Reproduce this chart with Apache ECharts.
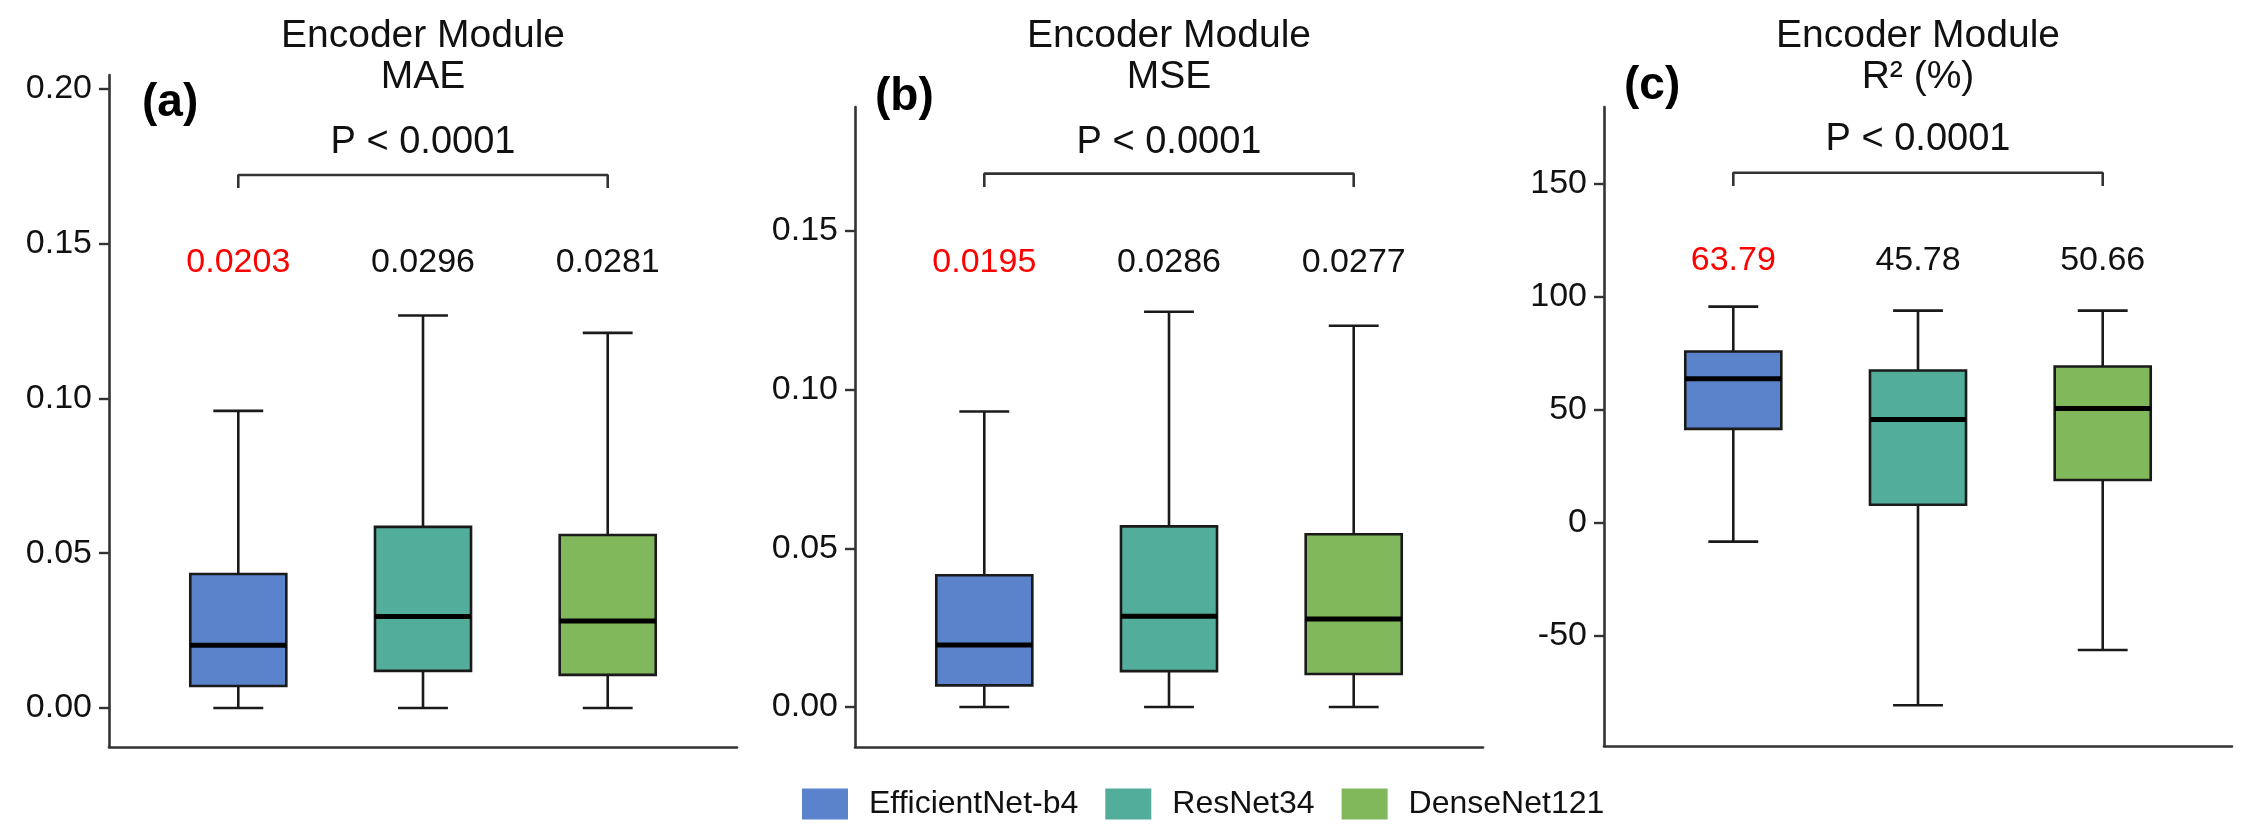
<!DOCTYPE html>
<html>
<head>
<meta charset="utf-8">
<script src="https://cdn.jsdelivr.net/npm/echarts@6/dist/echarts.min.js"></script>
<style>
html,body{margin:0;padding:0;background:#fff;}
#chart{width:2256px;height:839px;}
</style>
</head>
<body>
<div id="chart"></div>
<script>
// ---------------- data ----------------
const categories = ['EfficientNet-b4', 'ResNet34', 'DenseNet121'];
// each row: [min, Q1, median, Q3, max]
const maeStats = [
  [0, 0.0071, 0.0203, 0.0433, 0.0960],
  [0, 0.0120, 0.0296, 0.0585, 0.1268],
  [0, 0.0107, 0.0281, 0.0559, 0.1212]
];
const mseStats = [
  [0, 0.0068, 0.0195, 0.0415, 0.0931],
  [0, 0.0113, 0.0286, 0.0569, 0.1245],
  [0, 0.0104, 0.0277, 0.0544, 0.1201]
];
const r2Stats = [
  [-8.3, 41.6, 63.79, 75.8, 95.7],
  [-80.7, 8.0, 45.78, 67.4, 93.9],
  [-56.2, 19.0, 50.66, 69.2, 93.9]
];
const maeLabels = ['0.0203', '0.0296', '0.0281'];
const mseLabels = ['0.0195', '0.0286', '0.0277'];
const r2Labels = ['63.79', '45.78', '50.66'];
const maeTicks = [0, 0.05, 0.10, 0.15, 0.20];
const mseTicks = [0, 0.05, 0.10, 0.15];
const r2Ticks = [-50, 0, 50, 100, 150];
const pValueText = 'P < 0.0001';
const panelTitles = ['Encoder Module\nMAE', 'Encoder Module\nMSE', 'Encoder Module\nR\u00B2 (%)'];
const panelTags = ['(a)', '(b)', '(c)'];

// ---------------- styles / layout ----------------
const colors = ['#5A83CB', '#53AD9B', '#81B85C'];
const FONT = '"Liberation Sans", Arial, Helvetica, sans-serif';
const TEXT = '#111111';
const AXIS = '#333333';
const BOX_W = 0.52, CAP_W = 0.27;

const panels = [
  { stats: mseStats === null ? null : maeStats, labels: maeLabels, ticks: maeTicks, dec: 2,
    yMin: -0.0126, yMax: 0.2045, grid: {left: 109, top: 75, width: 628, height: 672},
    labelY: 0.1438, bracketY: 0.1722, dropY: 0.1680, pY: 0.1828, tag: [142, 103] },
  { stats: mseStats, labels: mseLabels, ticks: mseTicks, dec: 2,
    yMin: -0.0126, yMax: 0.1890, grid: {left: 855, top: 107, width: 628, height: 640},
    labelY: 0.1400, bracketY: 0.1680, dropY: 0.1638, pY: 0.1778, tag: [875, 97] },
  { stats: r2Stats, labels: r2Labels, ticks: r2Ticks, dec: 0,
    yMin: -98.7, yMax: 184, grid: {left: 1604, top: 107, width: 628, height: 639},
    labelY: 116, bracketY: 154.9, dropY: 149.1, pY: 169.5, tag: [1624, 86] }
];

function renderBox(params, api) {
  const x = api.value(0);
  const lo = api.coord([x, api.value(1)]);
  const q1 = api.coord([x, api.value(2)]);
  const md = api.coord([x, api.value(3)]);
  const q3 = api.coord([x, api.value(4)]);
  const hi = api.coord([x, api.value(5)]);
  const bw = api.size([BOX_W, 0])[0];
  const cw = api.size([CAP_W, 0])[0];
  const cx = lo[0];
  const lineStyle = {stroke: '#1a1a1a', lineWidth: 2.6};
  return {
    type: 'group',
    children: [
      {type: 'line', shape: {x1: cx, y1: q3[1], x2: cx, y2: hi[1]}, style: lineStyle},
      {type: 'line', shape: {x1: cx, y1: q1[1], x2: cx, y2: lo[1]}, style: lineStyle},
      {type: 'line', shape: {x1: cx - cw / 2, y1: hi[1], x2: cx + cw / 2, y2: hi[1]}, style: lineStyle},
      {type: 'line', shape: {x1: cx - cw / 2, y1: lo[1], x2: cx + cw / 2, y2: lo[1]}, style: lineStyle},
      {type: 'rect', shape: {x: cx - bw / 2, y: q3[1], width: bw, height: q1[1] - q3[1]},
        style: {fill: api.visual('color'), stroke: '#1a1a1a', lineWidth: 2.6}},
      {type: 'line', shape: {x1: cx - bw / 2, y1: md[1], x2: cx + bw / 2, y2: md[1]},
        style: {stroke: '#000', lineWidth: 5}}
    ]
  };
}

const grids = [], xAxes = [], yAxes = [], series = [], graphics = [];

panels.forEach((p, pi) => {
  grids.push(Object.assign({containLabel: false}, p.grid));
  xAxes.push({
    type: 'value', gridIndex: pi, min: 0.3, max: 3.7,
    axisLine: {show: true, onZero: false, lineStyle: {color: AXIS, width: 2.6}},
    axisTick: {show: false}, axisLabel: {show: false}, splitLine: {show: false}
  });
  yAxes.push({
    type: 'value', gridIndex: pi, min: p.yMin, max: p.yMax,
    axisLine: {show: true, onZero: false, lineStyle: {color: AXIS, width: 2.6}},
    axisTick: {show: true, length: 10, customValues: p.ticks, lineStyle: {color: AXIS, width: 2.4}},
    axisLabel: {show: true, customValues: p.ticks, margin: 17, fontSize: 34, fontFamily: FONT, color: TEXT,
      formatter: v => Number(v).toFixed(p.dec)},
    splitLine: {show: false}
  });
  // boxes: one series per model so the legend links the three panels
  categories.forEach((name, ci) => {
    series.push({
      type: 'custom', name: name, xAxisIndex: pi, yAxisIndex: pi,
      itemStyle: {color: colors[ci]},
      renderItem: renderBox,
      encode: {x: 0, y: [1, 2, 3, 4, 5]},
      data: [[ci + 1].concat(p.stats[ci])],
      z: 3
    });
  });
  // median value labels
  series.push({
    type: 'custom', xAxisIndex: pi, yAxisIndex: pi, silent: true,
    renderItem: (params, api) => {
      const i = params.dataIndex;
      const c = api.coord([api.value(0), p.labelY]);
      return {type: 'text', x: c[0], y: c[1],
        style: {text: p.labels[i], fill: i === 0 ? '#FF0000' : TEXT, fontSize: 34, fontFamily: FONT,
          align: 'center', verticalAlign: 'middle'}};
    },
    data: p.labels.map((_, i) => [i + 1]),
    z: 4
  });
  // significance bracket
  series.push({
    type: 'line', xAxisIndex: pi, yAxisIndex: pi, silent: true, symbol: 'none',
    lineStyle: {color: AXIS, width: 2.6},
    data: [[1, p.dropY], [1, p.bracketY], [3, p.bracketY], [3, p.dropY]],
    z: 4
  });
  series.push({
    type: 'custom', xAxisIndex: pi, yAxisIndex: pi, silent: true,
    renderItem: (params, api) => {
      const c = api.coord([2, p.pY]);
      return {type: 'text', x: c[0], y: c[1],
        style: {text: pValueText, fill: TEXT, fontSize: 38, fontFamily: FONT,
          align: 'center', verticalAlign: 'middle'}};
    },
    data: [[2]],
    z: 4
  });
  // title and panel tag
  graphics.push({
    type: 'text', x: p.grid.left + p.grid.width / 2, y: 16,
    style: {text: panelTitles[pi], fill: TEXT, fontSize: 39, lineHeight: 41, fontFamily: FONT,
      align: 'center', verticalAlign: 'top'}
  });
  graphics.push({
    type: 'text', x: p.tag[0], y: p.tag[1],
    style: {text: panelTags[pi], fill: '#000', fontSize: 46, fontWeight: 'bold', fontFamily: FONT,
      align: 'left', verticalAlign: 'middle'}
  });
});

const chart = echarts.init(document.getElementById('chart'), null, {renderer: 'canvas'});
chart.setOption({
  backgroundColor: '#ffffff',
  animation: false,
  grid: grids,
  xAxis: xAxes,
  yAxis: yAxes,
  legend: {
    left: 797, top: 783,
    icon: 'rect', itemWidth: 46, itemHeight: 31, itemGap: 27,
    data: categories.map((n, i) => ({name: n, itemStyle: {color: colors[i], borderWidth: 0}})),
    textStyle: {fontSize: 32, fontFamily: FONT, color: TEXT, padding: [0, 0, 0, 16]}
  },
  graphic: graphics,
  series: series
});
</script>
</body>
</html>
